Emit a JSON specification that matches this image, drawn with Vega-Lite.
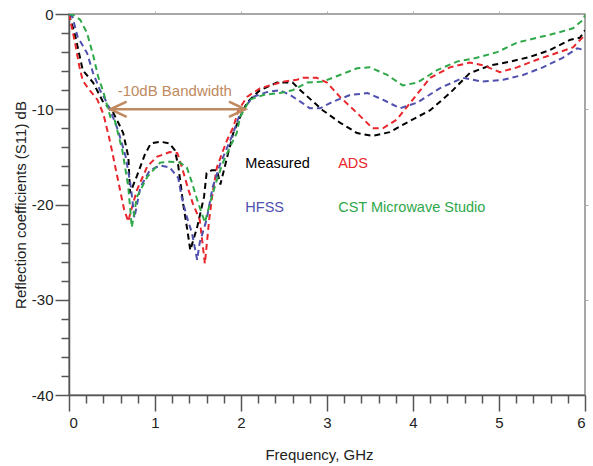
{
  "$schema": "https://vega.github.io/schema/vega-lite/v6.json",
  "width": 516,
  "height": 381,
  "autosize": {"type": "none"},
  "padding": {"left": 69, "top": 14, "right": 8, "bottom": 71},
  "background": "white",
  "config": {
    "font": "Liberation Sans",
    "view": {"stroke": "#8a8a8a", "strokeWidth": 1.5},
    "axis": {"labelFont": "Liberation Sans", "titleFont": "Liberation Sans", "grid": false}
  },
  "datasets": {
    "curves": [
      {"series": "Measured", "f": 0, "db": 0},
      {"series": "Measured", "f": 0.07, "db": -2.2},
      {"series": "Measured", "f": 0.16, "db": -5.9},
      {"series": "Measured", "f": 0.28, "db": -7.2},
      {"series": "Measured", "f": 0.4, "db": -9.3},
      {"series": "Measured", "f": 0.5, "db": -10.1},
      {"series": "Measured", "f": 0.6, "db": -11.9},
      {"series": "Measured", "f": 0.63, "db": -12.5},
      {"series": "Measured", "f": 0.69, "db": -15.0},
      {"series": "Measured", "f": 0.71, "db": -18.8},
      {"series": "Measured", "f": 0.79, "db": -17.0},
      {"series": "Measured", "f": 0.88, "db": -14.8},
      {"series": "Measured", "f": 0.95, "db": -13.6},
      {"series": "Measured", "f": 1.06, "db": -13.4},
      {"series": "Measured", "f": 1.17, "db": -13.6},
      {"series": "Measured", "f": 1.23, "db": -14.3},
      {"series": "Measured", "f": 1.27, "db": -15.9},
      {"series": "Measured", "f": 1.33, "db": -20.1},
      {"series": "Measured", "f": 1.38, "db": -22.9},
      {"series": "Measured", "f": 1.41, "db": -24.8},
      {"series": "Measured", "f": 1.49, "db": -22.4},
      {"series": "Measured", "f": 1.57, "db": -19.2},
      {"series": "Measured", "f": 1.6, "db": -16.7},
      {"series": "Measured", "f": 1.66, "db": -16.4},
      {"series": "Measured", "f": 1.72, "db": -16.4},
      {"series": "Measured", "f": 1.76, "db": -17.9},
      {"series": "Measured", "f": 1.84, "db": -15.0},
      {"series": "Measured", "f": 1.91, "db": -12.5},
      {"series": "Measured", "f": 1.99, "db": -10.8},
      {"series": "Measured", "f": 2.07, "db": -9.3},
      {"series": "Measured", "f": 2.22, "db": -8.0},
      {"series": "Measured", "f": 2.42, "db": -7.2},
      {"series": "Measured", "f": 2.6, "db": -7.2},
      {"series": "Measured", "f": 2.69, "db": -8.0},
      {"series": "Measured", "f": 2.95, "db": -10.1},
      {"series": "Measured", "f": 3.15, "db": -11.4},
      {"series": "Measured", "f": 3.35, "db": -12.5},
      {"series": "Measured", "f": 3.53, "db": -12.8},
      {"series": "Measured", "f": 3.73, "db": -12.4},
      {"series": "Measured", "f": 3.93, "db": -11.4},
      {"series": "Measured", "f": 4.2, "db": -10.1},
      {"series": "Measured", "f": 4.43, "db": -8.3},
      {"series": "Measured", "f": 4.66, "db": -6.2},
      {"series": "Measured", "f": 4.9, "db": -5.4},
      {"series": "Measured", "f": 5.13, "db": -5.0},
      {"series": "Measured", "f": 5.36, "db": -4.5},
      {"series": "Measured", "f": 5.59, "db": -3.8},
      {"series": "Measured", "f": 5.83, "db": -2.7},
      {"series": "Measured", "f": 5.94, "db": -2.5},
      {"series": "Measured", "f": 6.0, "db": -1.7},

      {"series": "ADS", "f": 0, "db": 0},
      {"series": "ADS", "f": 0.07, "db": -3.0},
      {"series": "ADS", "f": 0.12, "db": -5.5},
      {"series": "ADS", "f": 0.16, "db": -7.0},
      {"series": "ADS", "f": 0.24, "db": -8.0},
      {"series": "ADS", "f": 0.33, "db": -9.0},
      {"series": "ADS", "f": 0.4, "db": -10.5},
      {"series": "ADS", "f": 0.48, "db": -13.5},
      {"series": "ADS", "f": 0.56, "db": -17.0},
      {"series": "ADS", "f": 0.64, "db": -20.5},
      {"series": "ADS", "f": 0.69, "db": -21.8},
      {"series": "ADS", "f": 0.71, "db": -21.0},
      {"series": "ADS", "f": 0.79, "db": -18.5},
      {"series": "ADS", "f": 0.91, "db": -16.0},
      {"series": "ADS", "f": 1.02, "db": -15.0},
      {"series": "ADS", "f": 1.17, "db": -14.5},
      {"series": "ADS", "f": 1.26, "db": -14.6},
      {"series": "ADS", "f": 1.32, "db": -16.3},
      {"series": "ADS", "f": 1.38, "db": -18.2},
      {"series": "ADS", "f": 1.44, "db": -19.9},
      {"series": "ADS", "f": 1.52, "db": -21.6},
      {"series": "ADS", "f": 1.58, "db": -26.2},
      {"series": "ADS", "f": 1.63, "db": -21.6},
      {"series": "ADS", "f": 1.67, "db": -18.8},
      {"series": "ADS", "f": 1.72, "db": -16.1},
      {"series": "ADS", "f": 1.78, "db": -14.6},
      {"series": "ADS", "f": 1.84, "db": -13.2},
      {"series": "ADS", "f": 1.91, "db": -11.9},
      {"series": "ADS", "f": 1.97, "db": -10.1},
      {"series": "ADS", "f": 2.07, "db": -8.7},
      {"series": "ADS", "f": 2.22, "db": -7.8},
      {"series": "ADS", "f": 2.49, "db": -7.1},
      {"series": "ADS", "f": 2.65, "db": -6.9},
      {"series": "ADS", "f": 2.72, "db": -6.7},
      {"series": "ADS", "f": 2.88, "db": -6.7},
      {"series": "ADS", "f": 3.0, "db": -7.2},
      {"series": "ADS", "f": 3.15, "db": -8.7},
      {"series": "ADS", "f": 3.35, "db": -10.4},
      {"series": "ADS", "f": 3.53, "db": -12.0},
      {"series": "ADS", "f": 3.65, "db": -12.0},
      {"series": "ADS", "f": 3.81, "db": -11.1},
      {"series": "ADS", "f": 3.97, "db": -9.3},
      {"series": "ADS", "f": 4.2, "db": -6.7},
      {"series": "ADS", "f": 4.43, "db": -5.6},
      {"series": "ADS", "f": 4.66, "db": -5.1},
      {"series": "ADS", "f": 4.82, "db": -5.4},
      {"series": "ADS", "f": 5.01, "db": -6.1},
      {"series": "ADS", "f": 5.21, "db": -5.6},
      {"series": "ADS", "f": 5.44, "db": -4.8},
      {"series": "ADS", "f": 5.67, "db": -4.1},
      {"series": "ADS", "f": 5.86, "db": -3.5},
      {"series": "ADS", "f": 6.0, "db": -2.2},

      {"series": "HFSS", "f": 0, "db": 0},
      {"series": "HFSS", "f": 0.04, "db": -0.3},
      {"series": "HFSS", "f": 0.1, "db": -2.4},
      {"series": "HFSS", "f": 0.21, "db": -4.1},
      {"series": "HFSS", "f": 0.28, "db": -6.2},
      {"series": "HFSS", "f": 0.36, "db": -8.0},
      {"series": "HFSS", "f": 0.44, "db": -9.3},
      {"series": "HFSS", "f": 0.51, "db": -10.8},
      {"series": "HFSS", "f": 0.57, "db": -12.2},
      {"series": "HFSS", "f": 0.66, "db": -15.0},
      {"series": "HFSS", "f": 0.72, "db": -18.2},
      {"series": "HFSS", "f": 0.76, "db": -21.4},
      {"series": "HFSS", "f": 0.83, "db": -18.2},
      {"series": "HFSS", "f": 0.94, "db": -16.4},
      {"series": "HFSS", "f": 1.06, "db": -15.9},
      {"series": "HFSS", "f": 1.17, "db": -16.1},
      {"series": "HFSS", "f": 1.27, "db": -17.2},
      {"series": "HFSS", "f": 1.31, "db": -19.2},
      {"series": "HFSS", "f": 1.37, "db": -21.3},
      {"series": "HFSS", "f": 1.43, "db": -23.0},
      {"series": "HFSS", "f": 1.49, "db": -25.8},
      {"series": "HFSS", "f": 1.52, "db": -24.0},
      {"series": "HFSS", "f": 1.6, "db": -21.6},
      {"series": "HFSS", "f": 1.67, "db": -18.2},
      {"series": "HFSS", "f": 1.76, "db": -15.7},
      {"series": "HFSS", "f": 1.84, "db": -14.0},
      {"series": "HFSS", "f": 1.91, "db": -12.5},
      {"series": "HFSS", "f": 1.99, "db": -10.4},
      {"series": "HFSS", "f": 2.14, "db": -8.7},
      {"series": "HFSS", "f": 2.3, "db": -8.2},
      {"series": "HFSS", "f": 2.45, "db": -8.0},
      {"series": "HFSS", "f": 2.57, "db": -8.5},
      {"series": "HFSS", "f": 2.69, "db": -9.2},
      {"series": "HFSS", "f": 2.8, "db": -9.9},
      {"series": "HFSS", "f": 2.92, "db": -9.9},
      {"series": "HFSS", "f": 3.07, "db": -9.2},
      {"series": "HFSS", "f": 3.27, "db": -8.5},
      {"series": "HFSS", "f": 3.47, "db": -8.3},
      {"series": "HFSS", "f": 3.65, "db": -9.0},
      {"series": "HFSS", "f": 3.85, "db": -9.9},
      {"series": "HFSS", "f": 4.05, "db": -9.3},
      {"series": "HFSS", "f": 4.31, "db": -7.8},
      {"series": "HFSS", "f": 4.58, "db": -6.7},
      {"series": "HFSS", "f": 4.81, "db": -7.1},
      {"series": "HFSS", "f": 5.05, "db": -6.9},
      {"series": "HFSS", "f": 5.28, "db": -6.4},
      {"series": "HFSS", "f": 5.51, "db": -5.6},
      {"series": "HFSS", "f": 5.74, "db": -4.6},
      {"series": "HFSS", "f": 5.91, "db": -3.6},
      {"series": "HFSS", "f": 6.0, "db": -3.8},

      {"series": "CST Microwave Studio", "f": 0, "db": 0},
      {"series": "CST Microwave Studio", "f": 0.05, "db": -0.1},
      {"series": "CST Microwave Studio", "f": 0.13, "db": -0.6},
      {"series": "CST Microwave Studio", "f": 0.21, "db": -2.0},
      {"series": "CST Microwave Studio", "f": 0.28, "db": -4.3},
      {"series": "CST Microwave Studio", "f": 0.34, "db": -6.6},
      {"series": "CST Microwave Studio", "f": 0.4, "db": -8.2},
      {"series": "CST Microwave Studio", "f": 0.48, "db": -10.8},
      {"series": "CST Microwave Studio", "f": 0.53, "db": -11.1},
      {"series": "CST Microwave Studio", "f": 0.62, "db": -14.3},
      {"series": "CST Microwave Studio", "f": 0.69, "db": -18.2},
      {"series": "CST Microwave Studio", "f": 0.73, "db": -22.4},
      {"series": "CST Microwave Studio", "f": 0.79, "db": -19.2},
      {"series": "CST Microwave Studio", "f": 0.91, "db": -17.1},
      {"series": "CST Microwave Studio", "f": 1.06, "db": -15.6},
      {"series": "CST Microwave Studio", "f": 1.17, "db": -15.5},
      {"series": "CST Microwave Studio", "f": 1.29, "db": -15.6},
      {"series": "CST Microwave Studio", "f": 1.37, "db": -16.1},
      {"series": "CST Microwave Studio", "f": 1.43, "db": -17.7},
      {"series": "CST Microwave Studio", "f": 1.49, "db": -19.5},
      {"series": "CST Microwave Studio", "f": 1.58, "db": -21.9},
      {"series": "CST Microwave Studio", "f": 1.64, "db": -19.8},
      {"series": "CST Microwave Studio", "f": 1.72, "db": -17.4},
      {"series": "CST Microwave Studio", "f": 1.79, "db": -15.6},
      {"series": "CST Microwave Studio", "f": 1.87, "db": -14.0},
      {"series": "CST Microwave Studio", "f": 1.95, "db": -12.5},
      {"series": "CST Microwave Studio", "f": 1.99, "db": -10.8},
      {"series": "CST Microwave Studio", "f": 2.1, "db": -9.0},
      {"series": "CST Microwave Studio", "f": 2.26, "db": -8.5},
      {"series": "CST Microwave Studio", "f": 2.45, "db": -8.3},
      {"series": "CST Microwave Studio", "f": 2.6, "db": -8.0},
      {"series": "CST Microwave Studio", "f": 2.77, "db": -7.2},
      {"series": "CST Microwave Studio", "f": 2.95, "db": -7.1},
      {"series": "CST Microwave Studio", "f": 3.15, "db": -6.4},
      {"series": "CST Microwave Studio", "f": 3.35, "db": -5.7},
      {"series": "CST Microwave Studio", "f": 3.5, "db": -5.6},
      {"series": "CST Microwave Studio", "f": 3.7, "db": -6.4},
      {"series": "CST Microwave Studio", "f": 3.88, "db": -7.5},
      {"series": "CST Microwave Studio", "f": 4.05, "db": -7.2},
      {"series": "CST Microwave Studio", "f": 4.28, "db": -5.9},
      {"series": "CST Microwave Studio", "f": 4.51, "db": -5.0},
      {"series": "CST Microwave Studio", "f": 4.74, "db": -4.6},
      {"series": "CST Microwave Studio", "f": 4.98, "db": -4.0},
      {"series": "CST Microwave Studio", "f": 5.21, "db": -3.0},
      {"series": "CST Microwave Studio", "f": 5.44, "db": -2.5},
      {"series": "CST Microwave Studio", "f": 5.67, "db": -2.0},
      {"series": "CST Microwave Studio", "f": 5.86, "db": -1.5},
      {"series": "CST Microwave Studio", "f": 5.98, "db": -0.6},
      {"series": "CST Microwave Studio", "f": 6.0, "db": -0.1}
    ],
    "labels": [
      {"series": "Measured", "text": "Measured", "f": 2.05, "db": -15.8},
      {"series": "ADS", "text": "ADS", "f": 3.13, "db": -15.8},
      {"series": "HFSS", "text": "HFSS", "f": 2.05, "db": -20.4},
      {"series": "CST Microwave Studio", "text": "CST Microwave Studio", "f": 3.13, "db": -20.4}
    ],
    "arrow": [
      {"part": "shaft", "o": 1, "f": 0.48, "db": -10},
      {"part": "shaft", "o": 2, "f": 2.05, "db": -10},
      {"part": "left", "o": 1, "f": 0.67, "db": -9.2},
      {"part": "left", "o": 2, "f": 0.48, "db": -10},
      {"part": "left", "o": 3, "f": 0.67, "db": -10.8},
      {"part": "right", "o": 1, "f": 1.86, "db": -9.2},
      {"part": "right", "o": 2, "f": 2.05, "db": -10},
      {"part": "right", "o": 3, "f": 1.86, "db": -10.8}
    ],
    "note": [
      {"text": "-10dB Bandwidth", "f": 1.23, "db": -8.1}
    ]
  },
  "layer": [
    {
      "data": {"name": "curves"},
      "mark": {"type": "line", "strokeDash": [6, 4], "strokeWidth": 2, "clip": true},
      "encoding": {
        "x": {
          "field": "f", "type": "quantitative",
          "scale": {"domain": [0, 6], "nice": false, "zero": false},
          "axis": {
            "orient": "bottom", "values": [0, 1, 2, 3, 4, 5, 6], "tickSize": 16, "tickColor": "#555", "tickWidth": 1.5,
            "domainColor": "#555", "domainWidth": 1.5, "labelFontSize": 15, "labelColor": "#222", "labelPadding": 4,
            "title": "Frequency, GHz", "titleFontSize": 15, "titleFontWeight": "normal", "titleColor": "#222", "titlePadding": 17, "titleX": 250
          }
        },
        "y": {
          "field": "db", "type": "quantitative",
          "scale": {"domain": [-40, 0], "nice": false, "zero": false},
          "axis": {
            "orient": "left", "values": [-40, -30, -20, -10, 0], "tickSize": 14, "tickColor": "#555", "tickWidth": 1.5,
            "domainColor": "#555", "domainWidth": 1.5, "labelFontSize": 15, "labelColor": "#222", "labelPadding": 2,
            "labelExpr": "'' + datum.value",
            "title": "Reflection coefficients (S11) dB", "titleFontSize": 15, "titleFontWeight": "normal", "titleColor": "#222", "titlePadding": 3
          }
        },
        "color": {
          "field": "series", "type": "nominal",
          "scale": {"domain": ["Measured", "ADS", "HFSS", "CST Microwave Studio"], "range": ["#000000", "#e8262c", "#4f4fae", "#2fa84a"]},
          "legend": null
        }
      }
    },
    {
      "data": {"name": "labels"},
      "mark": {"type": "text", "align": "left", "baseline": "middle", "fontSize": 14.5},
      "encoding": {
        "x": {
          "field": "f", "type": "quantitative",
          "axis": {
            "orient": "bottom", "values": [0.2, 0.4, 0.6, 0.8, 1.2, 1.4, 1.6, 1.8, 2.2, 2.4, 2.6, 2.8, 3.2, 3.4, 3.6, 3.8, 4.2, 4.4, 4.6, 4.8, 5.2, 5.4, 5.6, 5.8],
            "tickSize": 8, "tickColor": "#555", "tickWidth": 1.5, "labels": false, "domain": false, "title": null
          }
        },
        "y": {
          "field": "db", "type": "quantitative",
          "axis": {
            "orient": "left", "values": [-38, -36, -34, -32, -28, -26, -24, -22, -18, -16, -14, -12, -8, -6, -4, -2],
            "tickSize": 8, "tickColor": "#555", "tickWidth": 1.5, "labels": false, "domain": false, "title": null
          }
        },
        "text": {"field": "text"},
        "color": {"field": "series", "type": "nominal", "legend": null}
      }
    },
    {
      "data": {"name": "arrow"},
      "mark": {"type": "line", "color": "#c08a60", "strokeWidth": 2.5},
      "encoding": {
        "x": {
          "field": "f", "type": "quantitative",
          "axis": {"orient": "top", "values": [1, 2, 3, 4, 5], "tickSize": 3, "tickColor": "#aaa", "labels": false, "domain": false, "title": null}
        },
        "y": {
          "field": "db", "type": "quantitative",
          "axis": {"orient": "right", "values": [-30, -20, -10], "tickSize": 3, "tickColor": "#aaa", "labels": false, "domain": false, "title": null}
        },
        "detail": {"field": "part"},
        "order": {"field": "o"}
      }
    },
    {
      "data": {"name": "note"},
      "mark": {"type": "text", "align": "center", "baseline": "middle", "fontSize": 15, "color": "#c08a60"},
      "encoding": {
        "x": {"field": "f", "type": "quantitative", "axis": null},
        "y": {"field": "db", "type": "quantitative", "axis": null},
        "text": {"field": "text"}
      }
    }
  ],
  "resolve": {"axis": {"x": "independent", "y": "independent"}}
}
